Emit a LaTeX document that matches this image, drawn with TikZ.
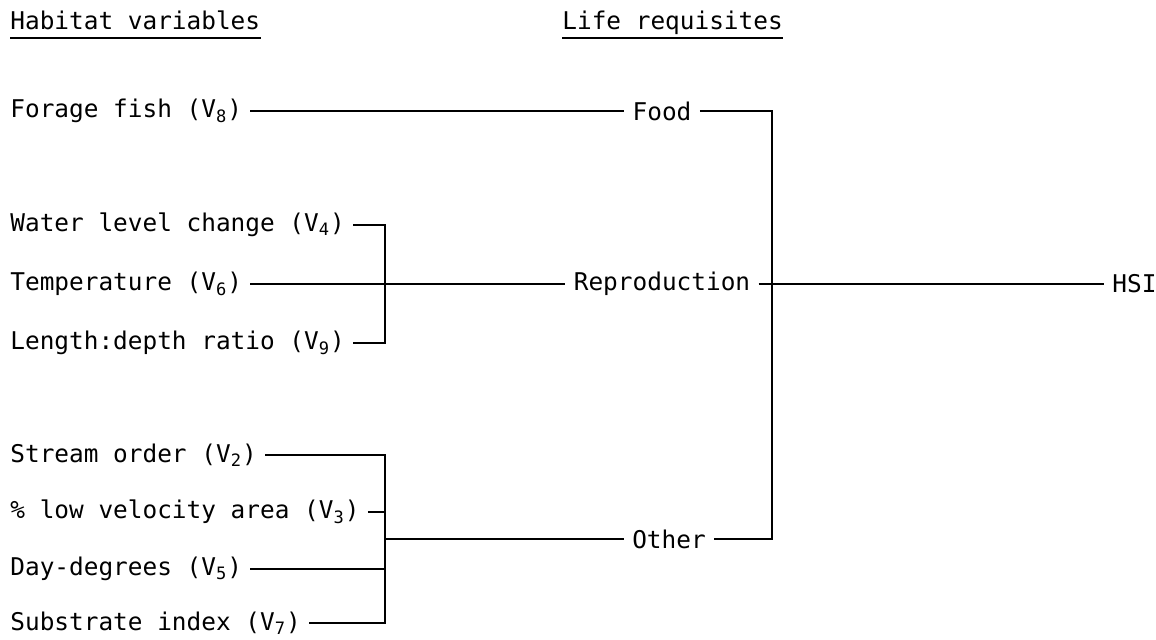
\documentclass[tikz,border=0pt]{standalone}
\usepackage{fontspec}
\setmainfont{DejaVu Sans Mono}
\begin{document}
\begin{tikzpicture}[
    x=0.5pt,y=-0.5pt,
    rotulo/.style={font=\fontsize{12.2pt}{14pt}\selectfont,inner xsep=4pt,inner ysep=1pt},
    variavel/.style={rotulo,anchor=west},
    titulo/.style={font=\fontsize{12.2pt}{14pt}\selectfont,inner sep=0pt,anchor=base west},
    liga/.style={line width=0.9pt},
    sublinha/.style={line width=1pt}
]
\useasboundingbox (0,0) rectangle (1156,640);

\node[titulo] (thab) at (10,30) {Habitat variables};
\node[titulo] (tvid) at (562,30) {Life requisites};
\draw[sublinha] ([yshift=-4pt]thab.base west) -- ([yshift=-4pt]thab.base east);
\draw[sublinha] ([yshift=-4pt]tvid.base west) -- ([yshift=-4pt]tvid.base east);

\node[variavel] (v8) at (2,111) {Forage fish (V\textsubscript{8})};
\node[variavel] (v4) at (2,225) {Water level change (V\textsubscript{4})};
\node[variavel] (v6) at (2,284) {Temperature (V\textsubscript{6})};
\node[variavel] (v9) at (2,343) {Length:depth ratio (V\textsubscript{9})};
\node[variavel] (v2) at (2,455) {Stream order (V\textsubscript{2})};
\node[variavel] (v3) at (2,512) {\% low velocity area (V\textsubscript{3})};
\node[variavel] (v5) at (2,569) {Day-degrees (V\textsubscript{5})};
\node[variavel] (v7) at (2,623) {Substrate index (V\textsubscript{7})};

\node[rotulo] (food) at (662,111) {Food};
\node[rotulo] (repro) at (662,284) {Reproduction};
\node[rotulo] (other) at (669,539) {Other};
\node[rotulo,anchor=west] (hsi) at (1104,284) {HSI};

\coordinate (jrep) at (385,284);
\coordinate (joth) at (385,539);
\coordinate (jhsi) at (772,284);

\draw[liga] (v8.east) -- (food.west);
\draw[liga] (v4.east) -| (jrep) |- (v9.east);
\draw[liga] (v6.east) -- (repro.west);
\draw[liga] (v2.east) -| (joth) |- (v7.east);
\draw[liga] (v3.east) -- (v3.east -| joth);
\draw[liga] (v5.east) -- (v5.east -| joth);
\draw[liga] (joth) -- (other.west);
\draw[liga] (food.east) -| (jhsi) |- (other.east);
\draw[liga] (repro.east) -- (hsi.west);
\end{tikzpicture}
\end{document}
